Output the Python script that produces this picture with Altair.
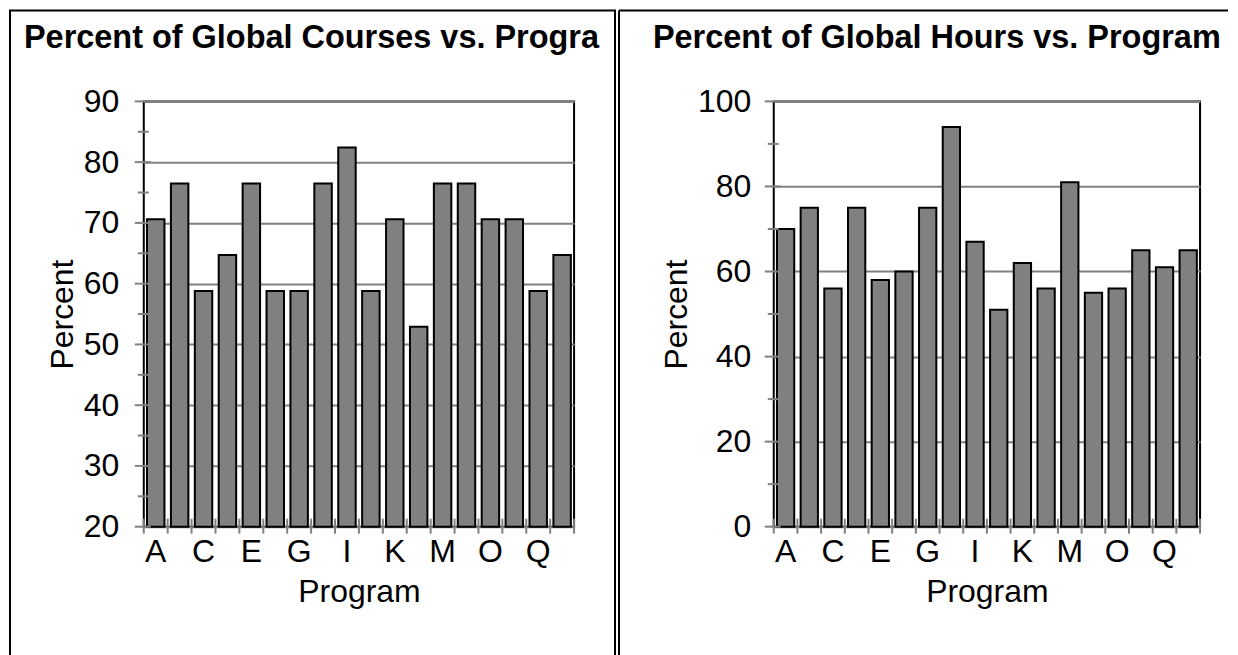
import altair as alt
import pandas as pd

# ---- data ----
programs = list("ABCDEFGHIJKLMNOPQR")
courses_pct = [70.6, 76.5, 58.8, 64.7, 76.5, 58.8, 58.8, 76.5, 82.4, 58.8,
               70.6, 52.9, 76.5, 76.5, 70.6, 70.6, 58.8, 64.7]
hours_pct = [70, 75, 56, 75, 58, 60, 75, 94, 67, 51,
             62, 56, 81, 55, 56, 65, 61, 65]
x_labels_shown = ["A", "C", "E", "G", "I", "K", "M", "O", "Q"]

courses_major = [20, 30, 40, 50, 60, 70, 80, 90]
courses_minor = [25, 35, 45, 55, 65, 75, 85]
hours_major = [0, 20, 40, 60, 80, 100]
hours_minor = [10, 30, 50, 70, 90]

title_courses = "Percent of Global Courses vs. Program"
title_hours = "Percent of Global Hours vs. Program"
x_title = "Program"
y_title = "Percent"

FONT = "Liberation Sans"
GRAY = "#808080"
H = 426


def panel(values, domain, major, minor, title, W, box, lab_pad, title_x, title_limit):
    df = pd.DataFrame({"Program": programs, "Percent": values})
    one = alt.Data(values=[{"k": 1}])
    shown = "[" + ",".join("'%s'" % s for s in x_labels_shown) + "]"

    yscale = alt.Scale(domain=domain, nice=False, zero=False)
    xscale = alt.Scale(paddingInner=0, paddingOuter=0)
    xaxis = alt.Axis(title=x_title, labelAngle=0, ticks=False, domain=False,
                     grid=False, labelPadding=10, titlePadding=9,
                     labelExpr="indexof(%s, datum.value) >= 0 ? datum.label : ''" % shown)
    yaxis = alt.Axis(title=y_title, values=major, grid=True, gridColor=GRAY,
                     gridWidth=2, ticks=False, domain=False,
                     labelPadding=lab_pad, titlePadding=4)

    bx0, by0, bx1, by1, full = box
    if full:
        frame = alt.Chart(one).mark_rect(fill=None, stroke="black", strokeWidth=2).encode(
            x=alt.value(bx0), x2=alt.value(bx1), y=alt.value(by0), y2=alt.value(by1))
        frames = [frame]
    else:
        f1 = alt.Chart(one).mark_rule(color="black", strokeWidth=2).encode(
            x=alt.value(bx0), x2=alt.value(bx1), y=alt.value(by0))
        f2 = alt.Chart(one).mark_rule(color="black", strokeWidth=2).encode(
            x=alt.value(bx0), y=alt.value(by0), y2=alt.value(by1))
        frames = [f1, f2]

    bars = alt.Chart(df).mark_bar(
        width={"band": 0.73}, fill=GRAY, stroke="black", strokeWidth=2
    ).encode(
        x=alt.X("Program:N", sort=programs, scale=xscale, axis=xaxis),
        y=alt.Y("Percent:Q", scale=yscale, axis=yaxis),
        y2=alt.datum(domain[0]),
    )

    tdf_major = pd.DataFrame({"Percent": major})
    tdf_minor = pd.DataFrame({"Percent": minor})
    ymaj = alt.Chart(tdf_major).mark_rule(color=GRAY, strokeWidth=2).encode(
        y=alt.Y("Percent:Q", scale=yscale, axis=yaxis), x=alt.value(-9), x2=alt.value(7))
    ymin = alt.Chart(tdf_minor).mark_rule(color=GRAY, strokeWidth=2).encode(
        y=alt.Y("Percent:Q", scale=yscale, axis=yaxis), x=alt.value(-6), x2=alt.value(5))

    xt = alt.Chart(pd.DataFrame({"Program": programs})).mark_rule(color=GRAY, strokeWidth=2).encode(
        x=alt.X("Program:N", sort=programs, scale=xscale, bandPosition=0, axis=xaxis),
        y=alt.value(H - 8), y2=alt.value(H + 7))
    xend = alt.Chart(one).mark_rule(color=GRAY, strokeWidth=2).encode(
        x=alt.value(W), y=alt.value(H - 8), y2=alt.value(H + 7))

    ttl = alt.Chart(one).mark_text(
        align="left", baseline="alphabetic", font=FONT, fontSize=32.5, fontWeight="bold",
        color="black", limit=title_limit, ellipsis="\u200b"
    ).encode(x=alt.value(title_x), y=alt.value(-53), text=alt.value(title))

    return alt.layer(*frames, bars, ymaj, ymin, xt, xend, ttl).properties(width=W, height=H)


left = panel(courses_pct, [20, 90], courses_major, courses_minor, title_courses,
             431, (-134, -91, 472, H + 140, True), 25, -120, 598)
right = panel(hours_pct, [0, 100], hours_major, hours_minor, title_hours,
              427, (-155, -91, 455, H + 140, False), 23, -121, 1000)

chart = alt.hconcat(left, right, spacing=200, bounds="flush").properties(
    padding=0
).configure_view(
    stroke="black", strokeWidth=2
).configure_axis(
    labelFont=FONT, labelFontSize=32, labelColor="black",
    titleFont=FONT, titleFontSize=32, titleFontWeight="normal", titleColor="black",
)

chart.save("out.html", embed_options={"renderer": "svg", "actions": False})
